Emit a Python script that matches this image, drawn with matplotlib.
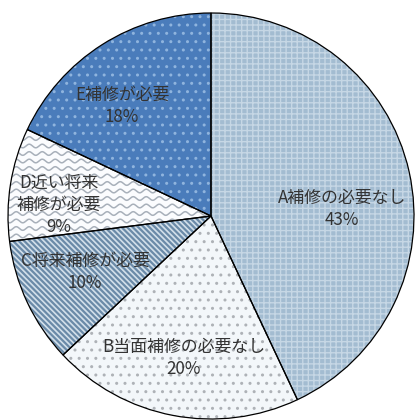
import numpy as np
import matplotlib
matplotlib.use('Agg')
import matplotlib.pyplot as plt
from matplotlib.patches import Wedge

plt.rcParams['font.family'] = ['Noto Sans CJK JP', 'DejaVu Sans']
plt.rcParams['hatch.linewidth'] = 1.0

# data
categories = ['A補修の必要なし', 'B当面補修の必要なし', 'C将来補修が必要', 'D近い将来\n補修が必要', 'E補修が必要']
shares = [43, 20, 10, 9, 18]

# looks
face_colors = ['#a3bcd1', '#f3f7fa', '#d2dfea', '#fbfcfe', '#4a7cbb']
hatch_colors = ['#c6d7e5', '#aeb2b7', '#6a8aa8', '#fbfcfe', '#8fb4de']
hatches = ['+++', '..', '\\' * 6, '', '..']
hatch_widths = [1.0, 1.0, 1.6, 1.0, 1.0]
label_pos = [(342, 209), (184, 358), (85, 272), (59, 205), (122, 106)]

W, H = 417, 420
cx, cy, r = 211, H - 216, 203

fig = plt.figure(figsize=(W / 100, H / 100), dpi=100)
ax = fig.add_axes([0, 0, 1, 1])

wedges, _ = ax.pie(shares, startangle=90, counterclock=False, center=(cx, cy), radius=r,
                   colors=face_colors, wedgeprops=dict(edgecolor='none', linewidth=0))
ax.set_xlim(0, W)
ax.set_ylim(0, H)
ax.set_aspect('auto')
ax.axis('off')

for w, h, hc, hw in zip(wedges, hatches, hatch_colors, hatch_widths):
    if h:
        w.set_hatch(h)
        w._hatch_color = matplotlib.colors.to_rgba(hc)
        if hasattr(w, 'set_hatch_linewidth'):
            w.set_hatch_linewidth(hw)

# wavy texture for D
xs = np.linspace(0, 230, 600)
for y0 in np.arange(cy - 80, cy + 120, 7.5):
    ln, = ax.plot(xs, y0 + 1.8 * np.sin(xs * 2 * np.pi / 13), color='#a8b0ba', lw=1.1, zorder=2)
    ln.set_clip_path(wedges[3])
wedges[3].set_zorder(1)

for cat, val, (lx, ly) in zip(categories, shares, label_pos):
    ax.text(lx, H - ly, f'{cat}\n{val}%', ha='center', va='center', fontsize=12.2,
            color='#333333', linespacing=1.3, zorder=5)

# outlines on top
for w in wedges:
    ax.add_patch(Wedge(w.center, w.r, w.theta1, w.theta2, fill=False,
                       edgecolor='black', linewidth=0.9, zorder=4))

fig.savefig('out.png', dpi=100)
